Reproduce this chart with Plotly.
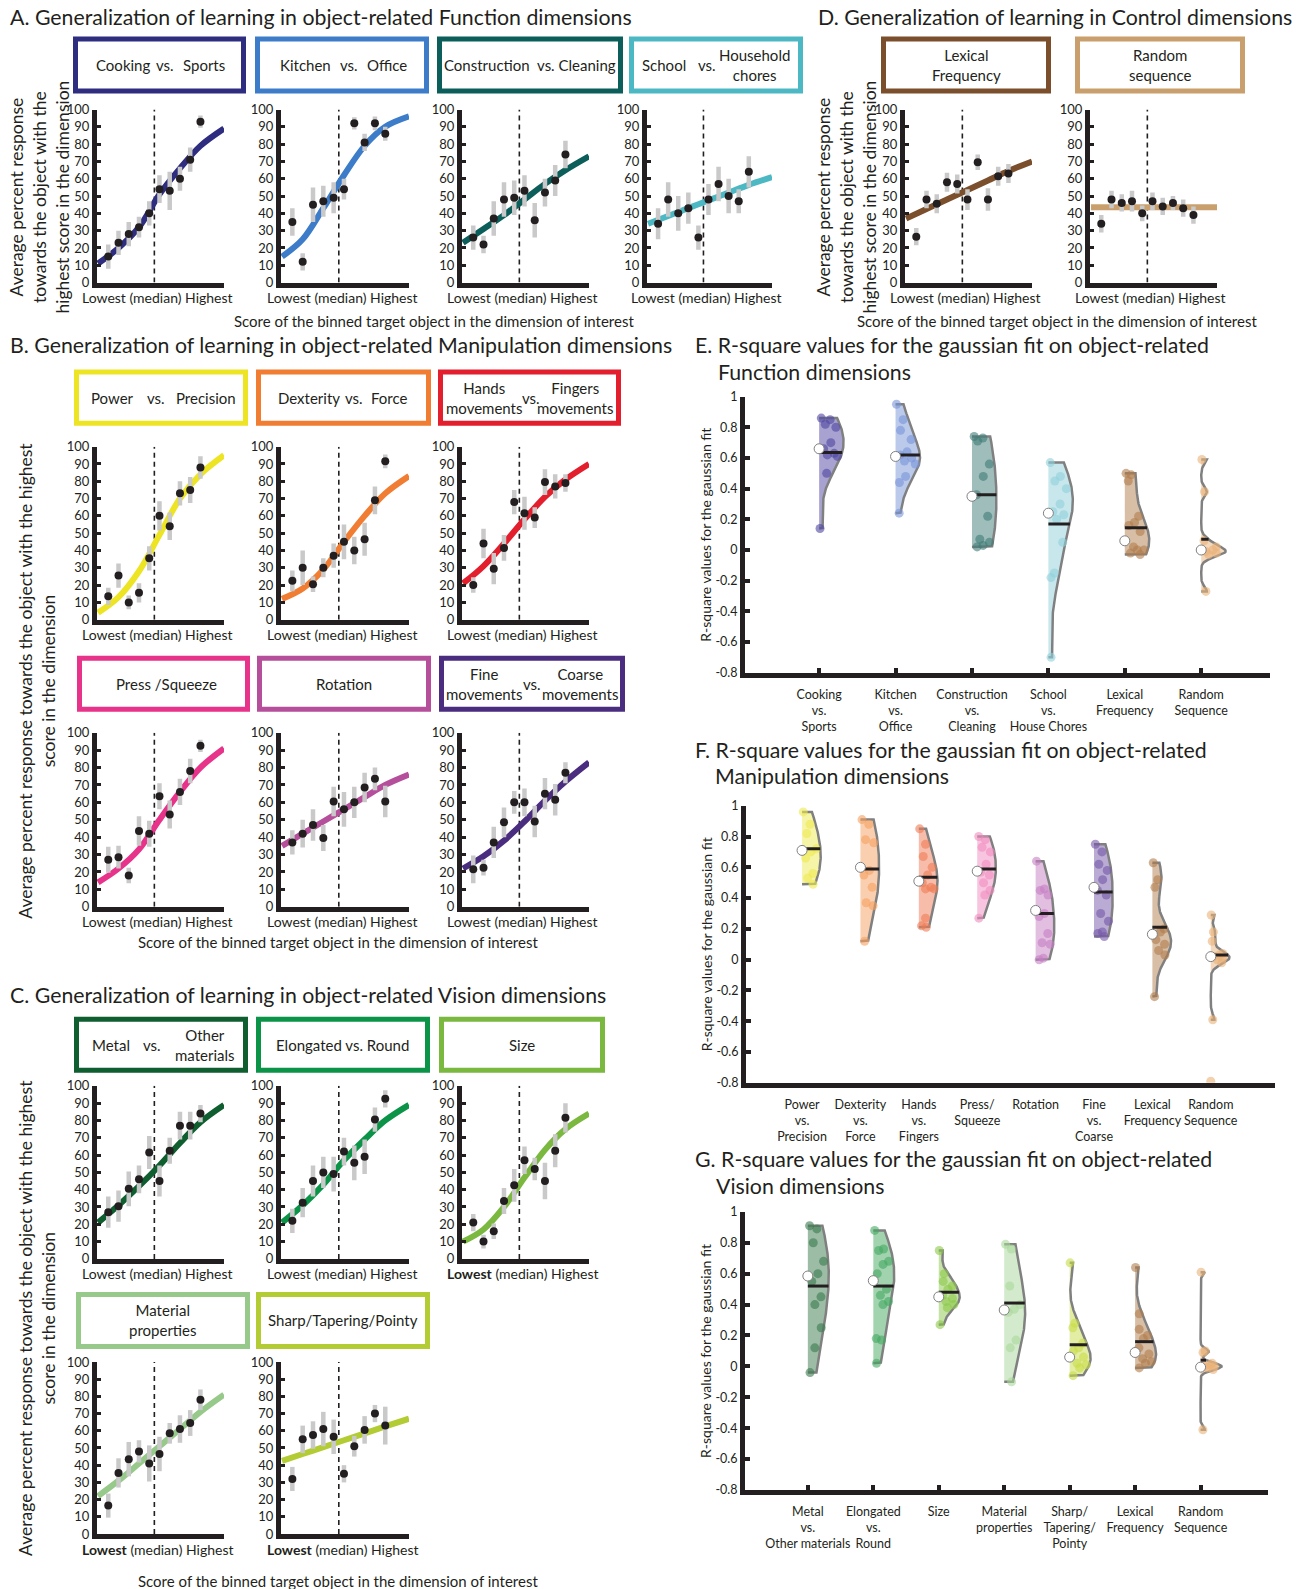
import numpy as np
import plotly.graph_objects as go

# ---------------------------------------------------------------- data ----
BIN_X = [1, 2, 3, 4, 5, 6, 7, 8, 9, 10]
CURVE_X = [0, 2, 4, 6, 8, 10, 12.3]
MEDIAN_BIN = 5.5
Y_TICKS = [0, 10, 20, 30, 40, 50, 60, 70, 80, 90, 100]

# A. Function dimensions
cooking_y = [15, 23, 28, 32, 40, 54, 53, 60, 71, 93]
cooking_err = [7, 7, 7, 6, 7, 8, 11, 7, 7, 3.5]
cooking_fit = [11, 20, 32, 51, 66, 79, 89]
kitchen_y = [35, 12, 45, 47, 49, 54, 92, 81, 92, 86]
kitchen_err = [8, 5, 10, 9, 9, 6, 3.5, 5, 4, 4]
kitchen_fit = [15, 25, 43, 62, 79, 90, 96]
construction_y = [26, 22, 37, 48, 49, 53, 36, 52, 59, 74]
construction_err = [7, 5, 10, 10, 10, 9, 10, 8, 9, 8]
construction_fit = [23, 31, 39, 48, 57, 65, 73]
school_y = [34, 48, 40, 43, 26, 48, 57, 50, 47, 64]
school_err = [9, 10, 10, 9, 7, 9, 10, 10, 7, 9]
school_fit = [34, 38.5, 43, 47.5, 52, 56.5, 61]
# D. Control dimensions
lexical_y = [26.5, 48, 45.5, 58, 57, 48, 69.5, 48, 61.5, 63]
lexical_err = [5, 5, 5.5, 5.5, 5.5, 6, 4.5, 6.5, 5.5, 5.5]
lexical_fit = [37, 42.5, 48, 53.5, 59, 64.5, 70]
random_y = [34, 48, 46, 47, 40, 47, 44, 46, 43, 39]
random_err = [5, 5, 5, 6, 4.5, 5, 5, 4, 5, 5]
random_fit = [43.5, 43.5, 43.5, 43.5, 43.5, 43.5, 43.5]
# B. Manipulation dimensions
power_y = [13.5, 25.5, 10, 15.5, 35.5, 60, 54, 73, 75, 88]
power_err = [5, 7, 4, 5.5, 7, 8.5, 8, 7, 7.5, 6.5]
power_fit = [4, 13, 28, 49, 70, 84, 95]
dexterity_y = [22.5, 30, 20.5, 30, 37, 45, 40, 46.5, 69, 91.5]
dexterity_err = [6, 10, 4.5, 5.5, 7, 10, 8, 9.5, 8, 4]
dexterity_fit = [12, 18, 29, 45, 60, 73, 83]
hands_y = [20, 44, 29.5, 41.5, 68, 61.5, 59, 79.5, 77, 79]
hands_err = [4.5, 8.5, 9, 7.5, 7, 9.5, 6, 7.5, 7, 5]
hands_fit = [21, 31, 44, 58, 71, 81, 90]
press_y = [27, 28.5, 18, 43.5, 42, 63.5, 53, 66, 78, 92.5]
press_err = [7.5, 6.5, 4.5, 8.5, 7.5, 7.5, 8, 7.5, 7, 3.5]
press_fit = [14, 22, 33, 50, 66, 80, 91]
rotation_y = [37, 42, 47, 39.5, 60.5, 56, 60, 68.5, 73.5, 60.5]
rotation_err = [7, 8, 9, 7.5, 8.5, 10, 9, 8.5, 6.5, 9]
rotation_fit = [35, 42, 49, 56, 63, 70, 76]
fine_y = [21.5, 22.5, 37, 48.5, 60, 60, 49, 65, 61.5, 77]
fine_err = [8, 4.5, 9, 8.5, 6.5, 8, 9, 9, 9, 6]
fine_fit = [22, 29, 38, 49, 61, 72, 83]
# C. Vision dimensions
metal_y = [27, 30.5, 40.5, 46, 61.5, 45, 62.5, 77, 77, 84]
metal_err = [9, 9, 10, 8, 9.5, 9, 7.5, 8, 8, 5]
metal_fit = [21, 31, 42, 54, 67, 79, 89]
elongated_y = [22, 32.5, 45, 50, 49, 62, 55.5, 59, 80.5, 92.5]
elongated_err = [7, 8.5, 9, 9, 10, 8, 10, 10, 7, 5]
elongated_fit = [21, 31, 43, 57, 69, 80, 89]
size_y = [21, 10, 16, 33.5, 42.5, 57, 52, 45, 62.5, 81.5]
size_err = [5, 4, 4.5, 7.5, 9.5, 8, 6.5, 10.5, 9.5, 8.5]
size_fit = [10, 17, 30, 47, 63, 75, 84]
material_y = [16.5, 35.5, 43.5, 48, 41, 46.5, 58.5, 61, 64.5, 78]
material_err = [7, 8.5, 10, 6.5, 10.5, 10, 6, 8, 7.5, 6]
material_fit = [22, 31, 41, 51, 61, 71, 81]
sharp_y = [32, 55, 57.5, 61, 56.5, 35, 51, 60.5, 70, 63]
sharp_err = [7, 8, 8, 10, 10, 5, 6, 8, 5, 11]
sharp_fit = [42.5, 46.5, 50.5, 54.5, 58.5, 62.5, 67]

# E/F/G. R-square values (individual participants)
VIOLIN_TICKS = [-0.8, -0.6, -0.4, -0.2, 0, 0.2, 0.4, 0.6, 0.8, 1]
VIOLIN_TICKTEXT = ["-0.8", "-0.6", "-0.4", "-0.2", "0", "0.2", "0.4", "0.6", "0.8", "1"]

e_labels = ["Cooking<br>vs.<br>Sports", "Kitchen<br>vs.<br>Office", "Construction<br>vs.<br>Cleaning",
            "School<br>vs.<br>House Chores", "Lexical<br>Frequency", "Random<br>Sequence"]
e_cooking = [0.86, 0.85, 0.82, 0.80, 0.70, 0.66, 0.63, 0.62, 0.61, 0.50, 0.14]
e_kitchen = [0.95, 0.85, 0.78, 0.72, 0.64, 0.62, 0.60, 0.58, 0.56, 0.48, 0.44, 0.24]
e_construction = [0.74, 0.73, 0.71, 0.56, 0.48, 0.36, 0.22, 0.07, 0.05, 0.03, 0.02]
e_school = [0.57, 0.48, 0.45, 0.40, 0.30, 0.25, 0.23, 0.20, 0.05, -0.15, -0.18, -0.70]
e_lexical = [0.50, 0.49, 0.45, 0.22, 0.18, 0.16, 0.12, 0.02, 0.0, 0.0, -0.02, -0.03]
e_random = [0.59, 0.38, 0.06, 0.02, 0.0, -0.01, -0.02, -0.03, -0.27]
e_mean = [0.66, 0.61, 0.35, 0.24, 0.06, 0.0]
e_median = [0.635, 0.62, 0.36, 0.17, 0.145, 0.07]

f_labels = ["Power<br>vs.<br>Precision", "Dexterity<br>vs.<br>Force", "Hands<br>vs.<br>Fingers",
            "Press/<br>Squeeze", "Rotation", "Fine<br>vs.<br>Coarse", "Lexical<br>Frequency", "Random<br>Sequence"]
f_power = [0.96, 0.88, 0.82, 0.72, 0.70, 0.66, 0.56, 0.53, 0.49]
f_dexterity = [0.91, 0.88, 0.78, 0.76, 0.58, 0.55, 0.47, 0.37, 0.35, 0.12]
f_hands = [0.85, 0.75, 0.67, 0.60, 0.55, 0.50, 0.47, 0.46, 0.46, 0.27, 0.22, 0.21]
f_press = [0.80, 0.78, 0.73, 0.70, 0.62, 0.57, 0.55, 0.50, 0.45, 0.42, 0.27]
f_rotation = [0.64, 0.46, 0.45, 0.42, 0.30, 0.28, 0.17, 0.11, 0.10, 0.01, 0.00]
f_fine = [0.75, 0.70, 0.62, 0.58, 0.52, 0.45, 0.42, 0.30, 0.25, 0.18, 0.17, 0.15]
f_lexical = [0.63, 0.52, 0.47, 0.20, 0.18, 0.13, 0.10, 0.06, 0.03, -0.24]
f_random = [0.29, 0.18, 0.12, 0.04, 0.03, 0.02, 0.01, 0.0, -0.02, -0.39]
f_random_outlier = [-0.79]
f_mean = [0.71, 0.60, 0.51, 0.575, 0.32, 0.47, 0.165, 0.02]
f_median = [0.72, 0.59, 0.535, 0.59, 0.30, 0.44, 0.21, 0.03]

g_labels = ["Metal<br>vs.<br>Other materials", "Elongated<br>vs.<br>Round", "Size", "Material<br>properties",
            "Sharp/<br>Tapering/<br>Pointy", "Lexical<br>Frequency", "Random<br>Sequence"]
g_metal = [0.91, 0.89, 0.80, 0.68, 0.60, 0.55, 0.45, 0.40, 0.25, 0.12, -0.04]
g_elongated = [0.88, 0.76, 0.75, 0.68, 0.66, 0.60, 0.50, 0.46, 0.42, 0.40, 0.18, 0.17, 0.02]
g_size = [0.75, 0.60, 0.55, 0.52, 0.50, 0.46, 0.44, 0.42, 0.40, 0.38, 0.27]
g_material = [0.79, 0.76, 0.52, 0.40, 0.37, 0.35, 0.17, 0.12, -0.10]
g_sharp = [0.67, 0.28, 0.25, 0.15, 0.12, 0.10, 0.06, 0.02, 0.01, -0.01, -0.06]
g_lexical = [0.64, 0.34, 0.24, 0.20, 0.18, 0.12, 0.08, 0.05, 0.03, 0.02, -0.01]
g_random = [0.61, 0.10, 0.09, 0.02, 0.01, 0.0, 0.0, -0.01, -0.02, -0.41]
g_mean = [0.585, 0.555, 0.45, 0.365, 0.06, 0.09, -0.005]
g_median = [0.52, 0.52, 0.48, 0.41, 0.14, 0.16, 0.04]

# -------------------------------------------------------------- layout ----
PAGE_W, PAGE_H = 1301, 1589
FW, FH = PAGE_W, PAGE_H
# vertical calibration of the photographed page (page is taller than the window)
V_SCALE, V_SHIFT = 0.9896, 8.6
INK = "#231f20"
FONT = "Lato, 'Open Sans', 'DejaVu Sans', sans-serif"


def px(x):
    return x / FW


def py(y):
    return 1 - (y / V_SCALE - V_SHIFT) / FH


def rgba(hx, a):
    hx = hx.lstrip('#')
    r, g, b = int(hx[0:2], 16), int(hx[2:4], 16), int(hx[4:6], 16)
    return f"rgba({r},{g},{b},{a})"


fig = go.Figure()
axes = {}
annotations = []
shapes = []
counter = [0]


def ann(x, y, text, size, xanchor='center', yanchor='middle', angle=0, align='center'):
    annotations.append(dict(xref='paper', yref='paper', x=px(x), y=py(y), text=text, showarrow=False,
                            xanchor=xanchor, yanchor=yanchor, textangle=angle, align=align,
                            font=dict(family=FONT, size=size, color=INK)))


def new_axes(x0, x1, ytop, ybot, xcfg, ycfg):
    counter[0] += 1
    i = counter[0]
    s = '' if i == 1 else str(i)
    axes['xaxis' + s] = dict(domain=[px(x0), px(x1)], anchor='y' + s, **xcfg)
    axes['yaxis' + s] = dict(domain=[py(ybot), py(ytop)], anchor='x' + s, **ycfg)
    return 'x' + s, 'y' + s


BASE_AX = dict(showgrid=False, zeroline=False, showline=True, linecolor=INK, linewidth=5,
               tickcolor=INK, fixedrange=True, tickfont=dict(family=FONT, size=13, color=INK))

COLS = {'c1': (97, 224), 'c2': (281, 409), 'c3': (462, 589), 'c4': (647, 772),
        'd1': (905, 1032), 'd2': (1090, 1217)}
ROWS = {'A': (110, 283), 'B1': (447, 620), 'B2': (733, 907), 'C1': (1086, 1259), 'C2': (1362, 1534)}
BOXROWS = {'A': (37, 94), 'B1': (370, 426), 'B2': (656, 712), 'C1': (1017, 1073), 'C2': (1292, 1349)}

LINE_PANELS = [
    (cooking_y, cooking_err, cooking_fit, '#2e2d7f', 'c1', 'A', (73, 246),
     [("Cooking", 0.29), ("vs.", 0.53), ("Sports", 0.76)], False),
    (kitchen_y, kitchen_err, kitchen_fit, '#3d7cc9', 'c2', 'A', (255, 429),
     [("Kitchen", 0.29), ("vs.", 0.54), ("Office", 0.76)], False),
    (construction_y, construction_err, construction_fit, '#0b5e5a', 'c3', 'A', (437, 623),
     [("Construction  vs. Cleaning", 0.5)], False),
    (school_y, school_err, school_fit, '#4cb8c4', 'c4', 'A', (629, 803),
     [("School", 0.2), ("vs.", 0.45), ("Household<br>chores", 0.72)], False),
    (lexical_y, lexical_err, lexical_fit, '#7b4f2c', 'd1', 'A', (881, 1051),
     [("Lexical<br>Frequency", 0.5)], False),
    (random_y, random_err, random_fit, '#c9a06d', 'd2', 'A', (1075, 1245),
     [("Random<br>sequence", 0.5)], False),
    (power_y, power_err, power_fit, '#ede424', 'c1', 'B1', (74, 248),
     [("Power", 0.22), ("vs.", 0.47), ("Precision", 0.76)], False),
    (dexterity_y, dexterity_err, dexterity_fit, '#f07d32', 'c2', 'B1', (256, 431),
     [("Dexterity", 0.30), ("vs.", 0.56), ("Force", 0.76)], False),
    (hands_y, hands_err, hands_fit, '#e41f2d', 'c3', 'B1', (438, 621),
     [("Hands<br>movements", 0.25), ("vs.", 0.51), ("Fingers<br>movements", 0.75)], False),
    (press_y, press_err, press_fit, '#e8338b', 'c1', 'B2', (77, 250),
     [("Press /Squeeze", 0.52)], False),
    (rotation_y, rotation_err, rotation_fit, '#b64f9b', 'c2', 'B2', (257, 431),
     [("Rotation", 0.5)], False),
    (fine_y, fine_err, fine_fit, '#4b2d80', 'c3', 'B2', (439, 625),
     [("Fine<br>movements", 0.24), ("vs.", 0.5), ("Coarse<br>movements", 0.76)], False),
    (metal_y, metal_err, metal_fit, '#0e5e30', 'c1', 'C1', (74, 248),
     [("Metal", 0.21), ("vs.", 0.45), ("Other<br>materials", 0.75)], False),
    (elongated_y, elongated_err, elongated_fit, '#0b9447', 'c2', 'C1', (256, 430),
     [("Elongated vs. Round", 0.5)], False),
    (size_y, size_err, size_fit, '#7ab840', 'c3', 'C1', (439, 605),
     [("Size", 0.5)], True),
    (material_y, material_err, material_fit, '#96c98a', 'c1', 'C2', (76, 250),
     [("Material<br>properties", 0.5)], True),
    (sharp_y, sharp_err, sharp_fit, '#b3cc34', 'c2', 'C2', (256, 430),
     [("Sharp/Tapering/Pointy", 0.5)], True),
]

for yv, ev, fv, color, col, row, (bx0, bx1), pieces, bold_low in LINE_PANELS:
    x0, x1 = COLS[col]
    ytop, ybot = ROWS[row]
    xa, ya = new_axes(x0, x1, ytop, ybot,
                      dict(BASE_AX, range=[-0.1, 12.3], showticklabels=False, ticks=''),
                      dict(BASE_AX, range=[0, 100], tickvals=Y_TICKS, ticks='inside', ticklen=4, tickwidth=3))
    fig.add_trace(go.Scatter(x=[MEDIAN_BIN, MEDIAN_BIN], y=[0, 100], mode='lines', xaxis=xa, yaxis=ya,
                             line=dict(color=INK, width=1.6, dash='5px,4px'), hoverinfo='skip'))
    fig.add_trace(go.Scatter(x=CURVE_X, y=fv, mode='lines', xaxis=xa, yaxis=ya,
                             line=dict(color=color, width=6, shape='spline', smoothing=1.0)))
    fig.add_trace(go.Scatter(x=BIN_X, y=yv, mode='markers', xaxis=xa, yaxis=ya,
                             marker=dict(color=INK, size=8),
                             error_y=dict(type='data', array=ev, color='#c9c9c9', thickness=4.5, width=0)))
    low = "<b>Lowest</b>" if bold_low else "Lowest"
    ann((x0 + x1) / 2 - 3, ybot + 15, low + " (median) Highest", 14)
    # dimension label box
    by0, by1 = BOXROWS[row]
    shapes.append(dict(type='rect', xref='paper', yref='paper', x0=px(bx0 + 2.5), x1=px(bx1 - 2.5),
                       y0=py(by1 - 2.5), y1=py(by0 + 2.5), line=dict(color=color, width=5),
                       fillcolor='white'))
    for txt, frac in pieces:
        ann(bx0 + frac * (bx1 - bx0), (by0 + by1) / 2, txt, 15)

# section titles and axis titles for the line panels
TITLE_SIZE = 21.3
ann(8, 18, "A. Generalization of learning in object-related Function dimensions", TITLE_SIZE, xanchor='left')
ann(816, 18, "D. Generalization of learning in Control dimensions", TITLE_SIZE, xanchor='left')
ann(8, 345, "B. Generalization of learning in object-related Manipulation dimensions", TITLE_SIZE, xanchor='left')
ann(8, 995, "C. Generalization of learning in object-related Vision dimensions", TITLE_SIZE, xanchor='left')

Y3 = "Average percent response<br>towards the object with the<br>highest score in the dimension"
Y2 = "Average percent response towards the object with the highest<br>score in the dimension"
XT = "Score of the binned target object in the dimension of interest"
ann(40, 198, Y3, 17.5, angle=-90)
ann(847, 197, Y3, 17.5, angle=-90)
ann(37, 681, Y2, 17.5, angle=-90)
ann(37, 1318, Y2, 17.5, angle=-90)
ann(434, 321, XT, 15)
ann(1057, 321, XT, 15)
ann(338, 942, XT, 15)
ann(338, 1581, XT, 15)

# ------------------------------------------------------------ violins ----
HALF_W = 0.32


def kde(vals, grid, bw):
    v = np.asarray(vals, dtype=float)[:, None]
    return np.exp(-0.5 * ((np.asarray(grid)[None, :] - v) / bw) ** 2).sum(axis=0)


def draw_violin(xa, ya, cat, vals, color, mean_v, med_v):
    v = np.asarray(vals, dtype=float)
    n = len(v)
    bw = np.median(np.abs(v - np.median(v))) / 0.6745 * (4.0 / (3.0 * n)) ** 0.2
    grid = np.linspace(v.min(), v.max(), 181)
    dens = kde(v, grid, bw)
    scale = HALF_W / dens.max()
    xs = np.concatenate([[cat], cat + dens * scale, [cat]])
    ys = np.concatenate([[grid[0]], grid, [grid[-1]]])
    fig.add_trace(go.Scatter(x=xs, y=ys, mode='lines', fill='toself', xaxis=xa, yaxis=ya,
                             fillcolor=rgba(color, 0.5), line=dict(color='#808080', width=2.5)))
    wid = kde(v, v, bw) * scale
    frac = 0.12 + 0.76 * ((np.arange(n) * 0.6180339) % 1.0)
    fig.add_trace(go.Scatter(x=cat + frac * wid, y=v, mode='markers', xaxis=xa, yaxis=ya,
                             marker=dict(color=rgba(color, 0.6), size=9, line=dict(width=0))))
    mw = kde(v, [med_v], bw)[0] * scale
    fig.add_trace(go.Scatter(x=[cat, cat + mw], y=[med_v, med_v], mode='lines', xaxis=xa, yaxis=ya,
                             line=dict(color=INK, width=3)))
    fig.add_trace(go.Scatter(x=[cat], y=[mean_v], mode='markers', xaxis=xa, yaxis=ya,
                             marker=dict(color='white', size=10, line=dict(color='#808080', width=1))))


E_COLORS = ['#4f46a0', '#7895d8', '#3f7c76', '#8fd0da', '#b07d4c', '#eab27a']
F_COLORS = ['#eeea50', '#f5a060', '#ef7b55', '#f08cc0', '#c67fc4', '#7458a8', '#b07d4c', '#eab27a']
G_COLORS = ['#3a7a4c', '#45a860', '#8cc84a', '#a8d89a', '#c8dc48', '#b07d4c', '#eab27a']

VIOLIN_PANELS = [
    (e_labels, [e_cooking, e_kitchen, e_construction, e_school, e_lexical, e_random], e_mean, e_median,
     E_COLORS, (745, 1270, 397, 673), [0.03, 6.9], True,
     ("E. R-square values for the gaussian fit on object-related", 345), ("Function dimensions", 372, 716)),
    (f_labels, [f_power, f_dexterity, f_hands, f_press, f_rotation, f_fine, f_lexical, f_random], f_mean,
     f_median, F_COLORS, (746, 1275, 806, 1083), [0.04, 9.1], False,
     ("F. R-square values for the gaussian fit on object-related", 750), ("Manipulation dimensions", 776, 713)),
    (g_labels, [g_metal, g_elongated, g_size, g_material, g_sharp, g_lexical, g_random], g_mean, g_median,
     G_COLORS, (745, 1268, 1212, 1490), [0.04, 8.03], True,
     ("G. R-square values for the gaussian fit on object-related", 1159), ("Vision dimensions", 1186, 714)),
]

for labels, groups, means, meds, colors, (x0, x1, ytop, ybot), xr, ticks_on, t1, t2 in VIOLIN_PANELS:
    cats = list(range(1, len(labels) + 1))
    xa, ya = new_axes(x0, x1, ytop, ybot,
                      dict(BASE_AX, range=xr, tickvals=cats, ticktext=labels, tickangle=0,
                           ticks='inside' if ticks_on else '', ticklen=5, tickwidth=4,
                           ticklabelstandoff=6, tickfont=dict(family=FONT, size=12.5, color=INK)),
                      dict(BASE_AX, range=[-0.8, 1.0], tickvals=VIOLIN_TICKS, ticktext=VIOLIN_TICKTEXT,
                           ticks='inside', ticklen=5, tickwidth=4,
                           tickfont=dict(family=FONT, size=12.5, color=INK)))
    for c, vals, col, mv, md in zip(cats, groups, colors, means, meds):
        draw_violin(xa, ya, c, vals, col, mv, md)
    if labels is f_labels:
        fig.add_trace(go.Scatter(x=[cats[-1]] * len(f_random_outlier), y=f_random_outlier, mode='markers',
                                 xaxis=xa, yaxis=ya, marker=dict(color=rgba(colors[-1], 0.6), size=9)))
    ann(693, t1[1], t1[0], TITLE_SIZE, xanchor='left')
    ann(t2[2], t2[1], t2[0], TITLE_SIZE, xanchor='left')
    ann(706, (ytop + ybot) / 2, "R-square values for the gaussian fit", 14, angle=-90)

fig.update_layout(width=FW, height=FH, margin=dict(l=0, r=0, t=0, b=0),
                  paper_bgcolor='white', plot_bgcolor='white', showlegend=False,
                  annotations=annotations, shapes=shapes, **axes)

fig.write_html("out.html", post_script="document.body.style.margin='0px';",
               config={'displayModeBar': False})
